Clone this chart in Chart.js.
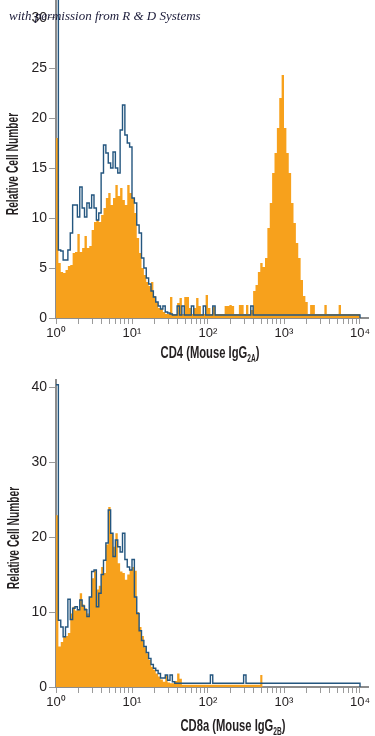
<!DOCTYPE html>
<html><head><meta charset="utf-8">
<script src="https://cdn.jsdelivr.net/npm/chart.js@4.4.0/dist/chart.umd.min.js"></script>
<style>
html,body{margin:0;padding:0;background:#fff;}
#wrap{position:relative;width:375px;height:736px;overflow:hidden;background:#fff;}
canvas{position:absolute;left:0;}
#c1{top:0;} #c2{top:368px;}
.xt{position:absolute;text-align:center;font-family:'Liberation Sans',Arial,sans-serif;font-weight:bold;font-size:17px;color:#231f20;line-height:1;white-space:nowrap;transform:translateX(-50%) scaleX(0.66);}
.xt sub{font-size:10px;vertical-align:-4px;line-height:0;}
.yt{position:absolute;font-family:'Liberation Sans',Arial,sans-serif;font-weight:bold;font-size:16px;color:#231f20;line-height:1;white-space:nowrap;transform:translate(-50%,-50%) rotate(-90deg) scaleX(0.64);}
#wm{position:absolute;left:9px;top:8px;font-family:'Liberation Serif',serif;font-style:italic;font-size:13px;color:#1c1c3a;white-space:nowrap;z-index:2;}
</style></head>
<body>
<div id="wrap">
<canvas id="c1" width="375" height="368"></canvas>
<canvas id="c2" width="375" height="368"></canvas>
<div id="wm">with permission from R &amp; D Systems</div>
<div class="yt" style="left:13px;top:164px;">Relative Cell Number</div>
<div class="yt" style="left:14px;top:538px;">Relative Cell Number</div>
<div class="xt" style="left:210px;top:344px;">CD4 (Mouse IgG<sub>2A</sub>)</div>
<div class="xt" style="left:233px;top:717px;">CD8a (Mouse IgG<sub>2B</sub>)</div>
</div>
<script>
const binsPerDecade = 32;
const xTickLabels = ['10⁰','10¹','10²','10³','10⁴'];
const topYTicks = [0,5,10,15,20,25,30];
const bottomYTicks = [0,10,20,30,40];

// CD4 panel: stained (orange) and isotype (blue) channel counts
const cd4Stained = [
 18, 5.5, 4.6, 4.5, 4.8, 5.2, 5.3, 6.5, 6.6, 8.4,
 6.6, 7.0, 8.2, 7.0, 7.2, 8.8, 9.6, 9.8, 9.6, 10.3,
 11.0, 12.0, 12.5, 11.3, 12.0, 13.3, 12.2, 13.0, 11.8, 11.3,
 13.3, 12.5, 12.0, 10.5, 8.0, 6.5, 5.0, 4.3, 3.6, 3.2,
 3.6, 2.2, 1.6, 1.0, 0.9, 0.6, 0.4, 0.4, 2.1, 0.4,
 0.4, 1.5, 2.0, 0.4, 2.1, 2.1, 1.0, 0.4, 1.0, 2.0,
 1.2, 0.4, 0.4, 2.3, 1.0, 0.4, 1.1, 0.4, 0.4, 0.4,
 0.4, 1.2, 1.2, 1.3, 1.2, 0.4, 0.4, 1.3, 1.3, 0.4,
 1.3, 0.4, 0.8, 2.7, 3.3, 4.6, 5.5, 5.1, 6.0, 9.0,
 11.5, 14.5, 16.5, 19.0, 22.0, 24.3, 19.0, 16.5, 14.5, 11.5,
 9.5, 7.5, 6.0, 3.8, 2.2, 1.6, 0.4, 1.3, 1.3, 0.4,
 0.4, 0.4, 0.4, 1.3, 0.4, 0.4, 0.4, 0.4, 0.4, 1.3,
 0.4, 0.4, 0.4, 0.4, 0.4, 0.4, 0.4, 0.4
];
const cd4Isotype = [
 32, 6.8, 6.7, 5.8, 5.8, 6.8, 8.5, 11.3, 11.3, 10.1,
 13.1, 11.0, 10.1, 11.5, 11.0, 12.3, 11.0, 9.8, 10.5, 14.5,
 17.3, 16.5, 15.5, 15.0, 16.6, 15.0, 14.5, 18.8, 21.3, 18.3,
 17.5, 17.1, 12.0, 11.5, 9.3, 8.5, 6.0, 5.0, 4.0, 3.4,
 2.7, 2.1, 1.6, 1.2, 0.9, 1.2, 0.6, 0.5, 0.4, 0.3,
 0.3, 1.2, 0.3, 1.2, 0.3, 0.3, 0.3, 1.2, 0.3, 0.3,
 0.3, 0.3, 1.2, 0.3, 0.3, 0.3, 1.2, 0.3, 0.3, 0.3,
 0.3, 0.3, 0.3, 0.3, 0.3, 0.3, 0.3, 0.3, 0.3, 0.3,
 0.3, 0.3, 1.2, 0.3, 0.3, 0.3, 0.3, 0.3, 0.3, 0.3,
 0.3, 0.3, 0.3, 0.3, 0.3, 0.3, 0.3, 0.3, 0.3, 0.3,
 0.3, 0.3, 0.3, 0.3, 0.3, 0.3, 0.3, 0.3, 0.3, 0.3,
 0.3, 0.3, 0.3, 0.3, 0.3, 0.3, 0.3, 0.3, 0.3, 0.3,
 0.3, 0.3, 0.3, 0.3, 0.3, 0.3, 0.3, 0.3
];

// CD8a panel
const cd8Stained = [
 22.9, 5.4, 6.0, 6.7, 6.8, 7.2, 9.8, 10.7, 10.2, 10.3,
 12.5, 11.0, 10.5, 9.8, 12.0, 14.5, 15.6, 13.0, 13.5, 16.0,
 15.2, 19.0, 24.0, 20.5, 18.7, 20.5, 16.5, 15.4, 15.2, 14.3,
 15.0, 15.6, 16.0, 15.5, 10.0, 8.0, 6.8, 5.3, 4.5, 3.6,
 2.7, 2.3, 1.8, 1.4, 1.0, 0.7, 1.6, 0.6, 0.5, 0.5,
 0.8, 1.8, 1.1, 0.3, 0.3, 0.3, 0.3, 0.3, 0.3, 0.3,
 0.3, 0.3, 0.3, 0.3, 0.3, 0.3, 0.3, 0.3, 0.3, 0.3,
 0.3, 0.3, 0.3, 0.3, 0.3, 0.3, 0.3, 0.3, 0.3, 0.3,
 0.3, 0.3, 0.3, 0.3, 0.3, 0.3, 1.6
];
const cd8Isotype = [
 40.3, 8.9, 8.0, 6.7, 8.0, 11.7, 9.0, 10.5, 10.7, 10.3,
 11.6, 10.8, 10.3, 9.4, 12.0, 15.4, 15.6, 10.7, 12.5, 15.0,
 16.9, 19.2, 23.6, 20.5, 17.4, 19.6, 18.7, 18.0, 20.5, 17.0,
 16.0, 15.6, 17.0, 12.0, 9.8, 7.5, 6.2, 5.4, 4.6, 3.8,
 3.0, 2.5, 2.2, 1.8, 1.2, 1.2, 1.6, 0.9, 1.6, 0.7,
 0.5, 0.5, 0.5, 0.5, 0.5, 0.5, 0.5, 0.5, 0.5, 0.5,
 0.5, 0.5, 0.5, 0.5, 0.5, 1.6, 0.5, 0.5, 0.5, 0.5,
 0.5, 0.5, 0.5, 0.5, 0.5, 0.5, 0.5, 0.5, 0.5, 1.6,
 0.5, 0.5, 0.5, 0.5, 0.5, 0.5, 0.5, 0.5, 0.5, 0.5,
 0.5, 0.5, 0.5, 0.5, 0.5, 0.5, 0.5, 0.5, 0.5, 0.5,
 0.5, 0.5, 0.5, 0.5, 0.5, 0.5, 0.5, 0.5, 0.5, 0.5,
 0.5, 0.5, 0.5, 0.5, 0.5, 0.5, 0.5, 0.5, 0.5, 0.5,
 0.5, 0.5, 0.5, 0.5, 0.5, 0.5, 0.5, 0.5
];

function edge(i){ return Math.pow(10, i / binsPerDecade); }
function toPoints(vals){
  const p = vals.map((v,i) => ({x: edge(i), y: v}));
  p.push({x: edge(vals.length), y: 0});
  return p;
}

const FONT = "'Liberation Sans',Arial,sans-serif";
const ORANGE = '#f7a11c';
const BLUE = '#24567f';
const AXIS = '#8c8c8c';

function makeChart(id, stained, isotype, yTicks, yMax, padTop, xAxisHeight){
  return new Chart(document.getElementById(id), {
    type: 'line',
    data: { datasets: [
      { data: toPoints(isotype), borderColor: BLUE, borderWidth: 1.4, fill: false,
        pointRadius: 0, stepped: true, order: 0 },
      { data: toPoints(stained), borderColor: ORANGE, backgroundColor: ORANGE, borderWidth: 0,
        fill: 'origin', pointRadius: 0, stepped: true, order: 1 }
    ]},
    options: {
      responsive: false, animation: false, devicePixelRatio: 1,
      layout: { padding: { top: padTop, right: 7, left: 0, bottom: 0 } },
      plugins: { legend: { display: false }, tooltip: { enabled: false } },
      scales: {
        x: {
          type: 'logarithmic', min: 1, max: Math.pow(10, 4 + 8/76),
          afterBuildTicks: s => {
            const t = [];
            for (let d = 0; d < 4; d++) for (let m = 1; m < 10; m++) t.push({ value: m * Math.pow(10, d) });
            t.push({ value: 10000 });
            s.ticks = t;
          },
          afterFit: s => { s.height = xAxisHeight; s.paddingLeft = 0; s.paddingRight = 0; },
          ticks: { autoSkip: false, maxRotation: 0, minRotation: 0, padding: 2, color: '#231f20',
            font: { family: FONT, size: 13 },
            callback: (v) => { const e = Math.log10(v); return Math.abs(e - Math.round(e)) < 1e-9 ? xTickLabels[Math.round(e)] : ''; } },
          grid: { drawOnChartArea: false, drawTicks: true, tickLength: 6, color: '#9b9b9b', lineWidth: 1 },
          border: { display: true, color: AXIS, width: 2 }
        },
        y: {
          min: 0, max: yMax,
          afterBuildTicks: s => { s.ticks = yTicks.map(v => ({ value: v })); },
          afterFit: s => { s.width = 56; s.paddingTop = 0; s.paddingBottom = 0; },
          ticks: { padding: 2, color: '#231f20', font: { family: FONT, size: 14 } },
          grid: { drawOnChartArea: false, drawTicks: true, tickLength: 7, color: '#9b9b9b', lineWidth: 1 },
          border: { display: true, color: AXIS, width: 2 }
        }
      }
    }
  });
}

makeChart('c1', cd4Stained, cd4Isotype, topYTicks, 31.8, 0, 50);
makeChart('c2', cd8Stained, cd8Isotype, bottomYTicks, 41, 11.5, 49);
</script>
</body></html>
